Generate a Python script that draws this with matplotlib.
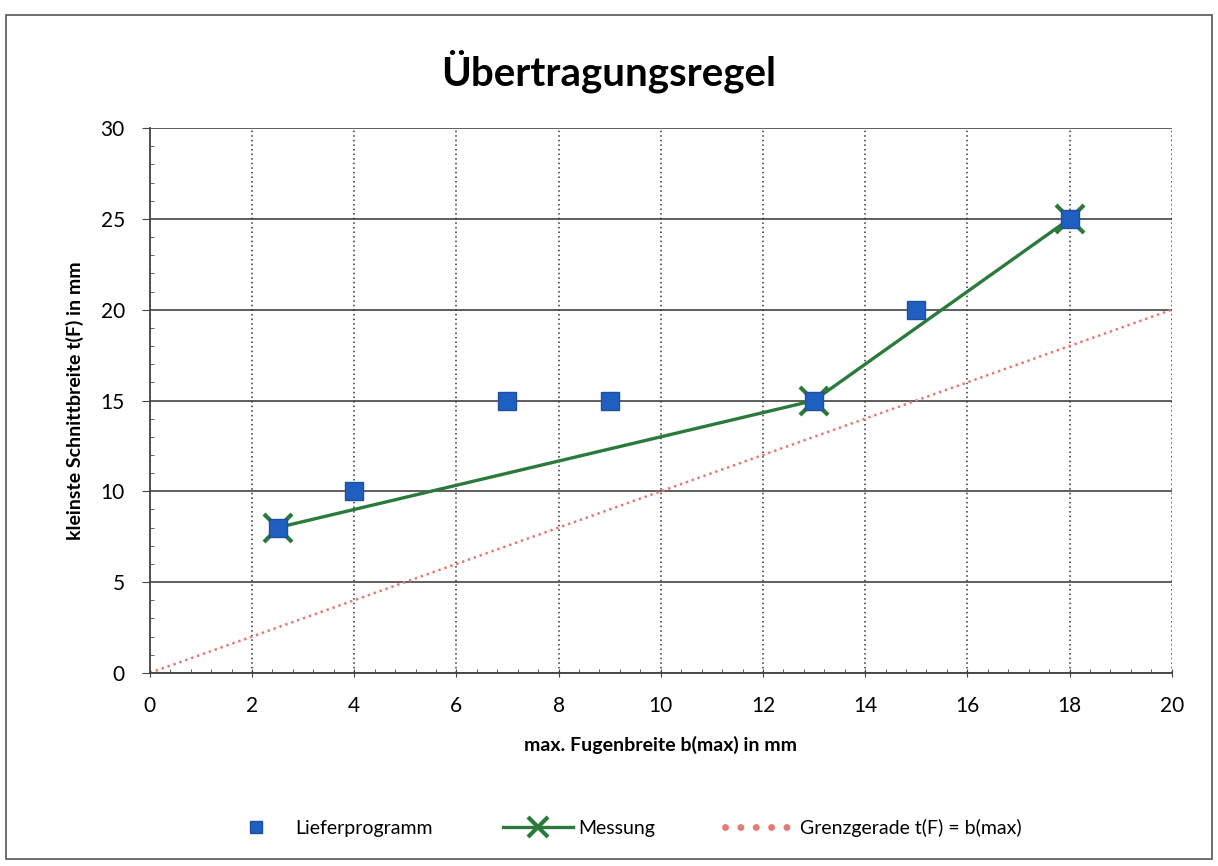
import numpy as np
import matplotlib.pyplot as plt
from matplotlib.ticker import MultipleLocator
from matplotlib.patches import Rectangle
from matplotlib.legend_handler import HandlerLine2D

plt.rcParams['font.family'] = ['Lato', 'DejaVu Sans']

# data
liefer_x = [2.5, 4, 7, 9, 13, 15, 18]
liefer_y = [8, 10, 15, 15, 15, 20, 25]

mess_x = [2.5, 13, 18]
mess_y = [8, 15, 25]

grenz_x = [0, 20]
grenz_y = [0, 20]

fig = plt.figure(figsize=(12.18, 8.66), dpi=100)
ax = fig.add_axes([0.123, 0.223, 0.839, 0.629])

# outer chart border
fig.patches.append(Rectangle((0.005, 0.008), 0.99, 0.975, transform=fig.transFigure,
                             fill=False, edgecolor='#555555', lw=1.2))

ax.plot(grenz_x, grenz_y, linestyle=(0, (1, 1.5)), color='#e57b72', lw=1.8,
        label='Grenzgerade t(F) = b(max)', zorder=2)
ax.plot(mess_x, mess_y, color='#2b7a3b', lw=2.4, marker='x', markersize=20,
        markeredgewidth=3, label='Messung', zorder=3)
ax.plot(liefer_x, liefer_y, linestyle='none', marker='s', markersize=13,
        color='#1f5fbf', markeredgecolor='#1f4f9f', label='Lieferprogramm', zorder=4)

ax.set_xlim(0, 20)
ax.set_ylim(0, 30)
ax.xaxis.set_major_locator(MultipleLocator(2))
ax.xaxis.set_minor_locator(MultipleLocator(0.4))
ax.yaxis.set_major_locator(MultipleLocator(5))
ax.yaxis.set_minor_locator(MultipleLocator(1))

ax.grid(axis='y', which='major', color='#333333', lw=1.1, linestyle='-')
ax.grid(axis='x', which='major', color='#333333', lw=1.1, linestyle=(0, (1, 2)))
ax.set_axisbelow(True)

for s in ['top', 'right']:
    ax.spines[s].set_visible(False)
for s in ['left', 'bottom']:
    ax.spines[s].set_color('#444444')
    ax.spines[s].set_linewidth(1.3)

ax.tick_params(axis='both', which='major', labelsize=15, color='#444444', length=6)
ax.tick_params(axis='x', which='major', direction='inout', pad=14)
ax.tick_params(axis='y', which='major', direction='out', pad=12)
ax.tick_params(which='minor', direction='in', length=3, color='#444444')

ax.set_xlabel('max. Fugenbreite b(max) in mm', fontsize=14, fontweight='bold', labelpad=14)
ax.set_ylabel('kleinste Schnittbreite t(F) in mm', fontsize=14, fontweight='bold', labelpad=12)

fig.text(0.5, 0.918, 'Übertragungsregel', ha='center', va='center',
         fontsize=29, fontweight='bold')


def dots(legline, orig):
    legline.update_from(orig)
    legline.set_linewidth(5)
    legline.set_linestyle((0, (0.01, 2.2)))
    legline.set_dash_capstyle('round')


h, l = ax.get_legend_handles_labels()
order = [2, 1, 0]
fig.legend([h[i] for i in order], [l[i] for i in order], loc='center',
           bbox_to_anchor=(0.51, 0.044), ncol=3, frameon=False, fontsize=14,
           handlelength=3.6, handletextpad=0.25, columnspacing=3.6, markerscale=0.7,
           handler_map={h[0]: HandlerLine2D(update_func=dots)})

fig.savefig('out.png', dpi=100)
